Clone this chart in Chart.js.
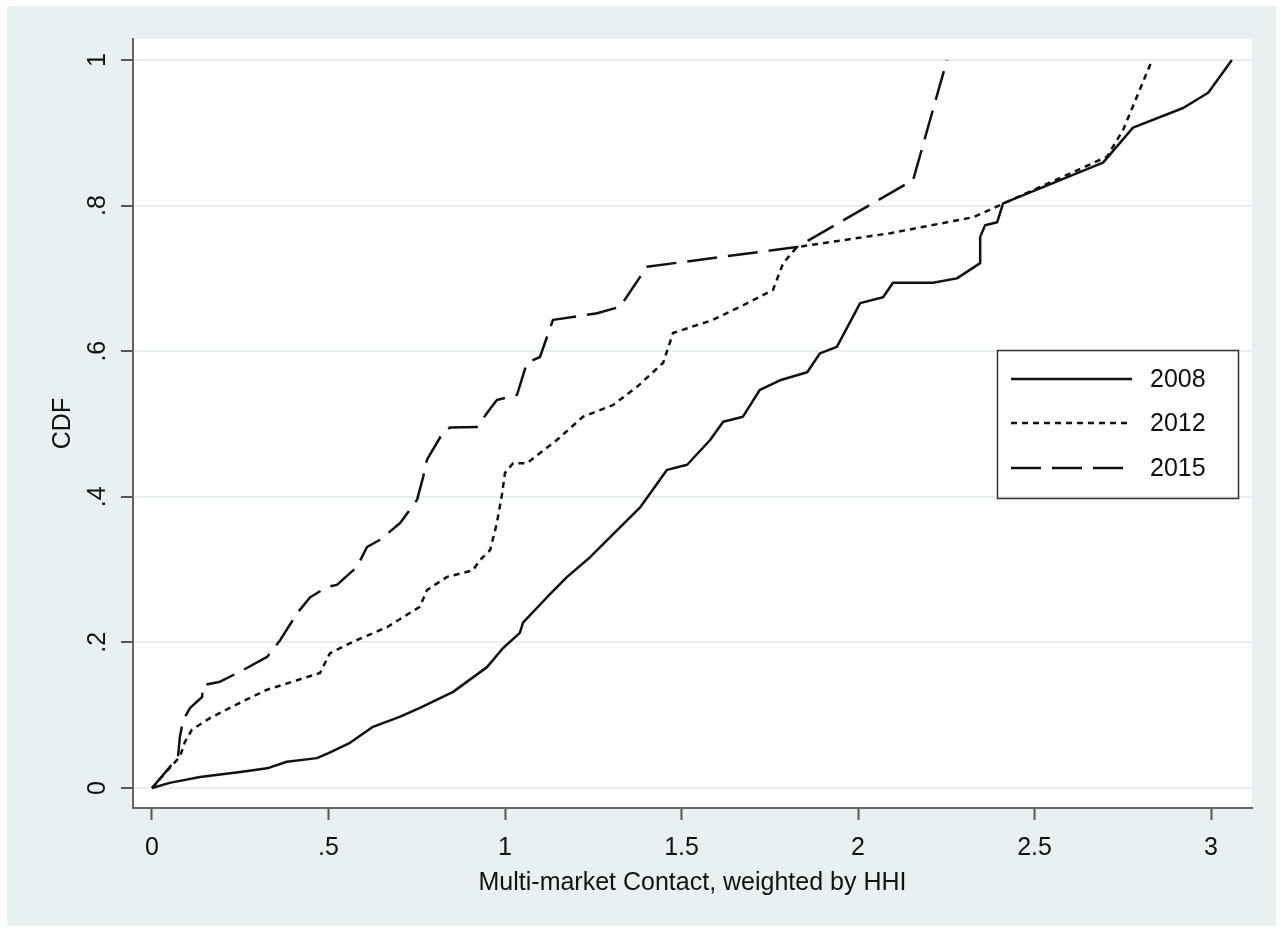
<!DOCTYPE html>
<html><head><meta charset="utf-8">
<script src="https://cdn.jsdelivr.net/npm/chart.js@4"></script>
<style>html,body{margin:0;padding:0;background:#fff}#wrap{width:1283px;height:932px}</style>
</head><body><div id="wrap"><canvas id="c" width="1283" height="932"></canvas></div>
<script>
const seriesNames = ['2008', '2012', '2015'];

const x2008 = [0, 0.05, 0.136, 0.25, 0.326, 0.382, 0.467, 0.50, 0.561, 0.626, 0.703, 0.759, 0.853, 0.949, 0.994, 1.042, 1.051, 1.119, 1.176, 1.241, 1.317, 1.382, 1.459, 1.516, 1.581, 1.618, 1.674, 1.722, 1.779, 1.856, 1.892, 1.94, 2.006, 2.071, 2.099, 2.212, 2.28, 2.346, 2.346, 2.36, 2.394, 2.411, 2.694, 2.779, 2.921, 2.992, 3.059];
const y2008 = [0, 0.007, 0.015, 0.022, 0.027, 0.036, 0.041, 0.048, 0.062, 0.084, 0.098, 0.11, 0.132, 0.166, 0.192, 0.213, 0.227, 0.262, 0.29, 0.317, 0.354, 0.385, 0.437, 0.444, 0.478, 0.503, 0.51, 0.547, 0.56, 0.571, 0.597, 0.606, 0.666, 0.674, 0.694, 0.694, 0.70, 0.721, 0.757, 0.773, 0.777, 0.803, 0.859, 0.907, 0.934, 0.955, 1.0];

const x2012 = [0, 0.04, 0.079, 0.093, 0.113, 0.164, 0.249, 0.326, 0.411, 0.476, 0.504, 0.57, 0.666, 0.759, 0.779, 0.836, 0.909, 0.929, 0.958, 0.977, 0.992, 1.0, 1.023, 1.062, 1.147, 1.221, 1.306, 1.374, 1.448, 1.476, 1.589, 1.674, 1.759, 1.788, 1.827, 2.091, 2.326, 2.422, 2.705, 2.751, 2.833];
const y2012 = [0, 0.022, 0.043, 0.063, 0.08, 0.096, 0.117, 0.135, 0.148, 0.158, 0.185, 0.201, 0.221, 0.249, 0.272, 0.29, 0.299, 0.313, 0.327, 0.364, 0.405, 0.433, 0.446, 0.446, 0.478, 0.51, 0.526, 0.551, 0.584, 0.625, 0.643, 0.663, 0.684, 0.721, 0.743, 0.762, 0.784, 0.805, 0.867, 0.904, 1.0];

const x2015 = [0, 0.051, 0.074, 0.079, 0.088, 0.108, 0.142, 0.144, 0.193, 0.258, 0.326, 0.363, 0.411, 0.448, 0.496, 0.524, 0.581, 0.609, 0.646, 0.703, 0.751, 0.768, 0.779, 0.824, 0.844, 0.921, 0.949, 0.977, 1.034, 1.062, 1.099, 1.136, 1.261, 1.326, 1.402, 1.827, 2.156, 2.252];
const y2015 = [0, 0.029, 0.045, 0.07, 0.093, 0.11, 0.125, 0.141, 0.146, 0.162, 0.18, 0.203, 0.24, 0.262, 0.276, 0.279, 0.304, 0.331, 0.341, 0.364, 0.396, 0.427, 0.451, 0.488, 0.495, 0.496, 0.515, 0.533, 0.54, 0.584, 0.592, 0.643, 0.652, 0.661, 0.716, 0.743, 0.835, 1.0];

const xTicks = [0, 0.5, 1, 1.5, 2, 2.5, 3];
const xTickLabels = ['0', '.5', '1', '1.5', '2', '2.5', '3'];
const yTicks = [0, 0.2, 0.4, 0.6, 0.8, 1];
const yTickLabels = ['0', '.2', '.4', '.6', '.8', '1'];

const xTitle = 'Multi-market Contact, weighted by HHI';
const yTitle = 'CDF';

const toPts = (xs, ys) => xs.map((x, i) => ({x: x, y: ys[i]}));
const FONT = 'Liberation Sans, Arial, sans-serif';
const INK = '#111111';
const BG = '#e8f0f2';
const GRID = '#e6eef1';

const bgPlugin = {
  id: 'bg',
  beforeDraw(chart) {
    const ctx = chart.ctx, a = chart.chartArea;
    ctx.save();
    ctx.fillStyle = '#ffffff';
    ctx.fillRect(0, 0, chart.width, chart.height);
    ctx.fillStyle = BG;
    ctx.fillRect(7, 6, 1269, 920);
    ctx.fillStyle = '#ffffff';
    ctx.fillRect(a.left, a.top, a.right - a.left, a.bottom - a.top);
    ctx.restore();
  }
};

const legendPlugin = {
  id: 'boxLegend',
  afterDraw(chart) {
    const ctx = chart.ctx;
    ctx.save();
    ctx.strokeStyle = '#333';
    ctx.lineWidth = 1.5;
    ctx.setLineDash([]);
    ctx.strokeRect(997.5, 350.5, 241, 148);
    const rows = [379, 423, 468];
    chart.data.datasets.forEach((ds, i) => {
      const y = rows[i];
      ctx.strokeStyle = ds.borderColor;
      ctx.lineWidth = ds.borderWidth;
      ctx.setLineDash(ds.borderDash || []);
      ctx.beginPath();
      ctx.moveTo(1011, y);
      ctx.lineTo(1132, y);
      ctx.stroke();
      ctx.setLineDash([]);
      ctx.fillStyle = INK;
      ctx.font = '25px ' + FONT;
      ctx.textAlign = 'left';
      ctx.textBaseline = 'middle';
      ctx.fillText(ds.label, 1150, y + 1);
    });
    ctx.restore();
  }
};

const dashes = [[], [6, 5], [30, 11]];
const allX = [x2008, x2012, x2015];
const allY = [y2008, y2012, y2015];

new Chart(document.getElementById('c'), {
  type: 'line',
  data: {
    datasets: seriesNames.map((n, i) => ({
      label: n,
      data: toPts(allX[i], allY[i]),
      borderColor: INK,
      borderWidth: 2.5,
      borderDash: dashes[i],
      pointRadius: 0,
      tension: 0,
      fill: false,
      borderJoinStyle: 'round'
    }))
  },
  plugins: [bgPlugin, legendPlugin],
  options: {
    responsive: false,
    animation: false,
    devicePixelRatio: 1,
    layout: {padding: {top: 39, right: 31, bottom: 0, left: 0}},
    plugins: {legend: {display: false}, tooltip: {enabled: false}},
    scales: {
      x: {
        type: 'linear',
        min: -0.0538,
        max: 3.116,
        afterBuildTicks: s => { s.ticks = xTicks.map(v => ({value: v})); },
        afterFit: s => { s.height = 124; },
        ticks: {
          callback: v => xTickLabels[xTicks.indexOf(v)],
          font: {family: FONT, size: 25},
          color: INK,
          padding: 13,
          maxRotation: 0,
          minRotation: 0,
          autoSkip: false
        },
        grid: {drawOnChartArea: false, drawTicks: true, tickLength: 12, tickColor: '#555', tickWidth: 2},
        border: {display: true, color: '#666', width: 2},
        title: {display: true, text: xTitle, font: {family: FONT, size: 25}, color: INK, padding: {top: 0, bottom: 34}}
      },
      y: {
        type: 'linear',
        min: -0.0275,
        max: 1.0288,
        afterBuildTicks: s => { s.ticks = yTicks.map(v => ({value: v})); },
        afterFit: s => { s.width = 133; },
        ticks: {
          callback: v => yTickLabels[yTicks.indexOf(v)],
          font: {family: FONT, size: 25},
          color: INK,
          padding: 12,
          minRotation: 90,
          maxRotation: 90,
          crossAlign: 'center',
          autoSkip: false
        },
        grid: {color: GRID, lineWidth: 2, drawTicks: true, tickLength: 12, tickColor: '#555', tickWidth: 2},
        border: {display: true, color: '#666', width: 2},
        title: {display: true, text: yTitle, font: {family: FONT, size: 25}, color: INK, padding: {top: 48, bottom: 0}}
      }
    }
  }
});
</script>
</body></html>
